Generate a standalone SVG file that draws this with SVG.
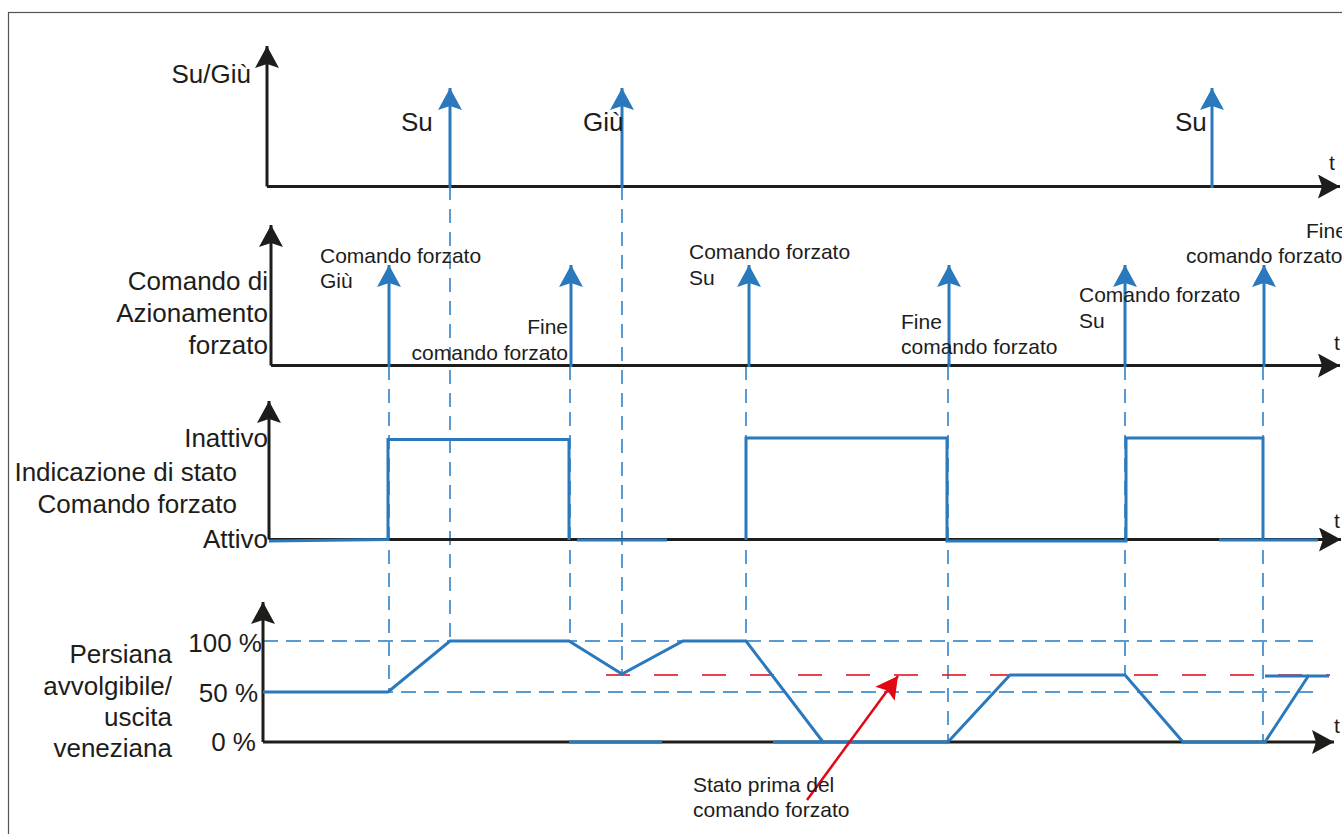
<svg xmlns="http://www.w3.org/2000/svg" width="1342" height="834" viewBox="0 0 1342 834">
<style>
text{font-family:"Liberation Sans",Arial,sans-serif;fill:#1d1d1b}
.L{font-size:26px}
.S{font-size:21px}
.e{text-anchor:end}
.ax{stroke:#1d1d1b;stroke-width:3;fill:none}
.sig{stroke:#2a79bd;stroke-width:3;fill:none;stroke-linejoin:miter}
.dv{stroke:#5a9ad3;stroke-width:2;stroke-dasharray:14 9;fill:none}
.dh{stroke:#5a9ad3;stroke-width:2;stroke-dasharray:15 8;fill:none}
.dr{stroke:#e30613;stroke-width:1.5;stroke-dasharray:24 24;fill:none}
.ev{stroke:#2a79bd;stroke-width:3;fill:none}
</style>
<defs>
<marker id="mk" markerUnits="userSpaceOnUse" markerWidth="26" markerHeight="26" refX="22" refY="12" orient="auto"><path d="M0,0 L22,12 L0,24 L4,12 Z" fill="#1d1d1b"/></marker>
<marker id="mb" markerUnits="userSpaceOnUse" markerWidth="26" markerHeight="26" refX="22" refY="12" orient="auto"><path d="M0,0 L22,12 L0,24 L4,12 Z" fill="#2a79bd"/></marker>
<marker id="mr" markerUnits="userSpaceOnUse" markerWidth="26" markerHeight="26" refX="22" refY="12" orient="auto"><path d="M0,0 L22,12 L0,24 L4,12 Z" fill="#e30613"/></marker>
</defs>
<rect x="8.5" y="12.5" width="1400" height="900" fill="#fff" stroke="#555" stroke-width="1.2"/>

<g id="guides">
<line class="dv" x1="389" y1="366" x2="389" y2="692"/>
<line class="dv" x1="450" y1="186" x2="450" y2="641"/>
<line class="dv" x1="570" y1="366" x2="570" y2="641"/>
<line class="dv" x1="622" y1="186" x2="622" y2="674"/>
<line class="dv" x1="746" y1="366" x2="746" y2="641"/>
<line class="dv" x1="948" y1="366" x2="948" y2="742"/>
<line class="dv" x1="1125" y1="366" x2="1125" y2="675"/>
<line class="dv" x1="1263" y1="366" x2="1263" y2="742"/>
<line class="dh" x1="263" y1="641" x2="1320" y2="641"/>
<line class="dh" x1="263" y1="692" x2="1320" y2="692"/>
<line class="dr" x1="606" y1="675" x2="1330" y2="675"/>
</g>

<g id="panel-sugiu">
<line class="ax" x1="267" y1="186.5" x2="267" y2="46" marker-end="url(#mk)"/>
<line class="ax" x1="267" y1="186.5" x2="1340" y2="186.5" marker-end="url(#mk)"/>
<text class="L e" x="251" y="83">Su/Giù</text>
<text class="S" x="1329" y="170">t</text>
<line class="ev" x1="450" y1="188" x2="450" y2="88" marker-end="url(#mb)"/>
<line class="ev" x1="622" y1="188" x2="622" y2="88" marker-end="url(#mb)"/>
<line class="ev" x1="1212" y1="188" x2="1212" y2="88" marker-end="url(#mb)"/>
<text class="L" x="401" y="131">Su</text>
<text class="L" x="583" y="131">Giù</text>
<text class="L" x="1175" y="131">Su</text>
</g>

<g id="panel-comando">
<line class="ax" x1="271" y1="365.5" x2="271" y2="225" marker-end="url(#mk)"/>
<line class="ax" x1="271" y1="365.5" x2="1340" y2="365.5" marker-end="url(#mk)"/>
<text class="L e" x="268" y="290">Comando di</text>
<text class="L e" x="268" y="322">Azionamento</text>
<text class="L e" x="268" y="354">forzato</text>
<text class="S" x="1334" y="350">t</text>
<line class="ev" x1="389" y1="367" x2="389" y2="265" marker-end="url(#mb)"/>
<line class="ev" x1="571" y1="367" x2="571" y2="265" marker-end="url(#mb)"/>
<line class="ev" x1="749" y1="367" x2="749" y2="265" marker-end="url(#mb)"/>
<line class="ev" x1="949" y1="367" x2="949" y2="265" marker-end="url(#mb)"/>
<line class="ev" x1="1125" y1="367" x2="1125" y2="265" marker-end="url(#mb)"/>
<line class="ev" x1="1264" y1="367" x2="1264" y2="265" marker-end="url(#mb)"/>
<text class="S" x="320" y="263">Comando forzato</text>
<text class="S" x="320" y="288">Giù</text>
<text class="S e" x="568" y="334">Fine</text>
<text class="S e" x="568" y="360">comando forzato</text>
<text class="S" x="689" y="259">Comando forzato</text>
<text class="S" x="689" y="285">Su</text>
<text class="S" x="901" y="329">Fine</text>
<text class="S" x="901" y="354">comando forzato</text>
<text class="S" x="1079" y="302">Comando forzato</text>
<text class="S" x="1079" y="328">Su</text>
<text class="S" x="1306" y="238">Fine</text>
<text class="S" x="1186" y="263">comando forzato</text>
</g>

<g id="panel-stato">
<line class="ax" x1="269" y1="539.5" x2="269" y2="401" marker-end="url(#mk)"/>
<line class="ax" x1="269" y1="539.5" x2="1341" y2="539.5" marker-end="url(#mk)"/>
<text class="L e" x="268" y="447">Inattivo</text>
<text class="L e" x="237" y="481">Indicazione di stato</text>
<text class="L e" x="237" y="513">Comando forzato</text>
<text class="L e" x="268" y="548">Attivo</text>
<text class="S" x="1334" y="528">t</text>
<polyline class="sig" points="269,541 388,539.5 388,439.5 569,439.5 569,540"/>
<line class="sig" x1="577" y1="540" x2="667" y2="540"/>
<polyline class="sig" points="746,540 746,438 947,438 947,541 1126,541 1126,438 1263,438 1263,540"/>
<line class="sig" x1="1219" y1="540" x2="1318" y2="540"/>
</g>

<g id="panel-persiana">
<line class="ax" x1="263" y1="742" x2="263" y2="602" marker-end="url(#mk)"/>
<line class="ax" x1="263" y1="742" x2="1334" y2="742" marker-end="url(#mk)"/>
<text class="L e" x="262" y="652">100 %</text>
<text class="L e" x="258" y="702">50 %</text>
<text class="L e" x="256" y="751">0 %</text>
<text class="L e" x="172" y="663">Persiana</text>
<text class="L e" x="172" y="695">avvolgibile/</text>
<text class="L e" x="172" y="726">uscita </text>
<text class="L e" x="172" y="757">veneziana</text>
<text class="S" x="1334" y="733">t</text>
<polyline class="sig" points="263,692 388,692 450,641 569,641 622,674 683,641 746,641 823,742 948,742 1010,675 1125,675 1183,742 1265,742 1309,675"/>
<line class="sig" x1="1265" y1="676" x2="1329" y2="676"/>
<line class="sig" x1="569" y1="742" x2="662" y2="742"/>
<line class="sig" x1="773" y1="742" x2="823" y2="742"/>
</g>

<g id="note">
<line x1="807" y1="800" x2="898" y2="676" stroke="#e30613" stroke-width="2.5" marker-end="url(#mr)"/>
<text class="S" x="693" y="792">Stato prima del</text>
<text class="S" x="693" y="817">comando forzato</text>
</g>
</svg>
